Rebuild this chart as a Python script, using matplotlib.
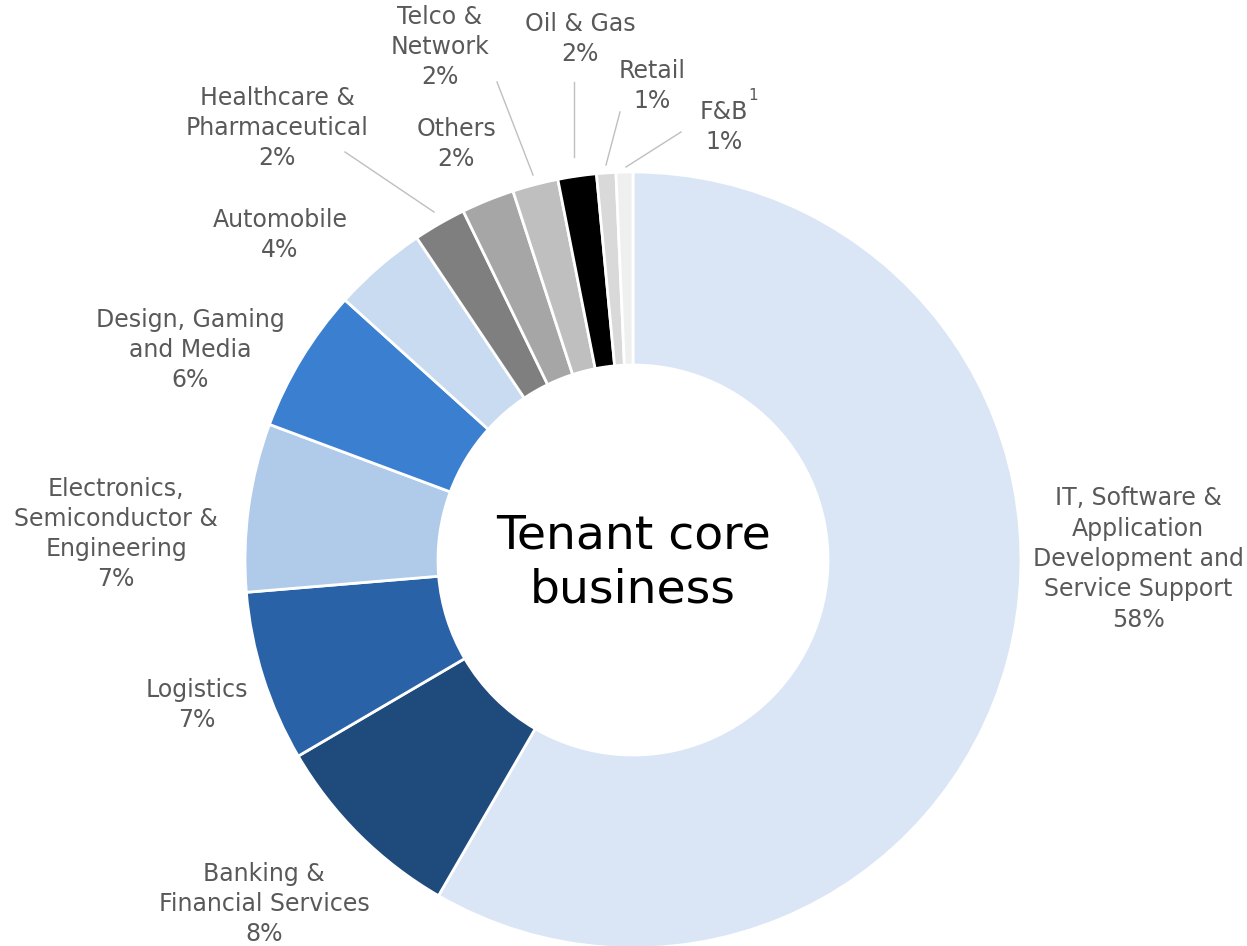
import matplotlib.pyplot as plt

# tenant core business split (share in %)
sectors = ['IT, Software &\nApplication\nDevelopment and\nService Support',
           'Banking &\nFinancial Services', 'Logistics',
           'Electronics,\nSemiconductor &\nEngineering',
           'Design, Gaming\nand Media', 'Automobile',
           'Healthcare &\nPharmaceutical', 'Others', 'Telco &\nNetwork',
           'Oil & Gas', 'Retail', 'F&B']
shares = [58.3, 8.2, 7.1, 7.0, 6.0, 3.9, 2.2, 2.2, 1.9, 1.6, 0.8, 0.7]
shown_pct = ['58%', '8%', '7%', '7%', '6%', '4%', '2%', '2%', '2%', '2%', '1%', '1%']
colors = ['#dae6f5', '#1f4a7c', '#2a62a8', '#b0cbea', '#3b7fd0', '#c9dbf0',
          '#7f7f7f', '#a6a6a6', '#bfbfbf', '#000000', '#d9d9d9', '#efefef']

W, H = 1247, 946
fig = plt.figure(figsize=(W / 100, H / 100), dpi=100)
ax = fig.add_axes([0, 0, 1, 1])

cx, cy, R = 633, H - 560, 388
ax.pie(shares, colors=colors, startangle=90, counterclock=False,
       center=(cx, cy), radius=R,
       wedgeprops=dict(width=193, edgecolor='white', linewidth=2))
ax.set_xlim(0, W)
ax.set_ylim(0, H)
ax.set_aspect('equal')
ax.axis('off')

txt = '#595959'
# label block centres (pixel coords from the top)
pos = [(1138, 559), (264, 904), (197, 705), (116, 534), (190, 350),
       (280, 235), (277, 128), (456, 144), (440, 47), (580, 39), (652, 86),
       (724, 127)]
for name, pct, (x, y) in zip(sectors, shown_pct, pos):
    ax.text(x, H - y, name + '\n' + pct, ha='center', va='center',
            fontsize=17, color=txt, linespacing=1.33)
ax.text(753, H - 96, '1', fontsize=11, color=txt, ha='center', va='center')

# leader lines for the small slices
leaders = [((345, 152), (434, 212)), ((497, 82), (533, 175)),
           ((574, 82), (574, 157)), ((620, 112), (606, 165)),
           ((681, 132), (626, 167))]
for (x0, y0), (x1, y1) in leaders:
    ax.plot([x0, x1], [H - y0, H - y1], color='#bfbfbf', lw=1)

ax.text(cx, H - 563, 'Tenant core\nbusiness', ha='center', va='center',
        fontsize=34, color='black', linespacing=1.25)

fig.savefig('out.png', dpi=100)
